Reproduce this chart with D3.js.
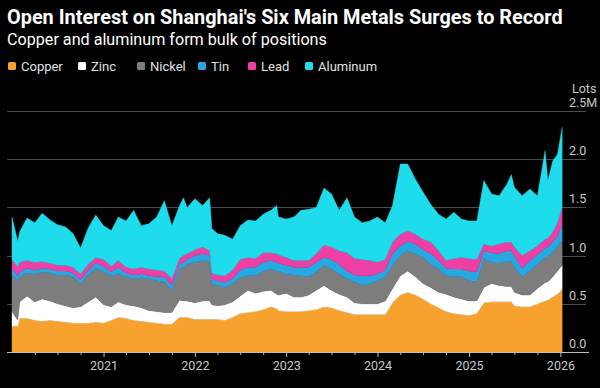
<!DOCTYPE html>
<html><head><meta charset="utf-8">
<script src="https://cdn.jsdelivr.net/npm/d3@7"></script>
<style>html,body{margin:0;padding:0;background:#000;} svg{display:block;}</style>
</head><body><svg id="c" width="600" height="388"></svg>
<script>
const dates = [
"2020-01-01","2020-01-24","2020-02-01","2020-03-01","2020-04-01","2020-05-01","2020-06-01","2020-07-01","2020-08-01","2020-09-01","2020-10-01","2020-11-01","2020-12-01",
"2021-01-01","2021-02-01","2021-03-01","2021-04-01","2021-05-01","2021-06-01","2021-07-01","2021-08-01","2021-09-01","2021-10-01","2021-11-01","2021-11-16","2021-12-01",
"2022-01-01","2022-02-01","2022-03-01","2022-03-10","2022-04-01","2022-05-01","2022-06-01","2022-07-01","2022-08-01","2022-09-01","2022-10-01","2022-11-01","2022-11-24","2022-12-01",
"2023-01-01","2023-02-01","2023-03-01","2023-04-01","2023-05-01","2023-06-01","2023-07-01","2023-08-01","2023-09-01","2023-10-01","2023-11-01","2023-12-01",
"2024-01-01","2024-02-01","2024-03-01","2024-04-01","2024-05-01","2024-06-01","2024-07-01","2024-08-01","2024-09-01","2024-10-01","2024-11-01","2024-12-01",
"2025-01-01","2025-02-01","2025-03-01","2025-04-01","2025-05-01","2025-06-01","2025-06-19","2025-07-01","2025-08-01","2025-09-01","2025-10-01","2025-11-01","2025-11-12","2025-12-01","2025-12-20",
"2026-01-08"];
// Open interest, million lots
const copper = [
.27,.27,.35,.35,.33,.32,.33,.32,.31,.30,.30,.30,.31,
.30,.33,.36,.35,.33,.32,.31,.30,.29,.29,.36,.36,.36,
.34,.34,.34,.34,.34,.33,.36,.40,.41,.42,.44,.47,.45,.43,
.42,.42,.42,.43,.44,.47,.46,.43,.41,.39,.39,.39,
.39,.39,.51,.59,.62,.59,.55,.50,.46,.42,.40,.39,
.38,.40,.51,.52,.52,.52,.52,.48,.47,.47,.50,.53,.54,.57,.60,
.65];
const zinc = [
.15,.06,.17,.23,.19,.23,.20,.18,.17,.16,.17,.22,.26,
.19,.14,.16,.14,.15,.14,.12,.12,.12,.12,.18,.17,.17,
.17,.19,.19,.15,.14,.16,.16,.18,.23,.19,.19,.17,.15,.16,
.19,.15,.15,.16,.20,.22,.18,.17,.16,.12,.11,.11,
.11,.14,.15,.20,.22,.19,.16,.17,.16,.18,.17,.16,
.15,.13,.16,.19,.17,.16,.16,.14,.12,.12,.16,.19,.19,.21,.24,
.25];
const nickel = [
.38,.41,.26,.24,.29,.28,.29,.30,.32,.32,.24,.28,.30,
.34,.32,.29,.29,.28,.31,.33,.32,.32,.23,.32,.35,.38,
.42,.42,.41,.22,.21,.18,.19,.19,.15,.18,.21,.22,.24,.25,
.20,.23,.22,.19,.19,.21,.22,.21,.19,.22,.19,.21,
.24,.25,.24,.21,.21,.24,.27,.24,.24,.19,.21,.23,
.21,.20,.30,.22,.23,.26,.26,.26,.19,.25,.25,.26,.26,.25,.25,
.26];
const tin = [
.06,.05,.05,.05,.04,.04,.04,.04,.04,.04,.04,.05,.05,
.06,.04,.07,.04,.04,.04,.03,.04,.05,.05,.05,.05,.05,
.07,.07,.06,.05,.05,.05,.05,.08,.09,.09,.09,.09,.09,.08,
.09,.08,.09,.10,.10,.08,.10,.10,.08,.07,.10,.08,
.07,.07,.12,.10,.10,.10,.08,.11,.09,.08,.08,.08,
.10,.10,.08,.10,.10,.11,.11,.12,.09,.11,.10,.10,.10,.11,.11,
.16];
const lead = [
.10,.09,.10,.08,.08,.07,.06,.06,.06,.06,.06,.06,.06,
.07,.06,.07,.06,.06,.07,.07,.07,.06,.07,.06,.07,.06,
.06,.07,.05,.06,.06,.07,.09,.11,.10,.09,.10,.08,.09,.09,
.08,.07,.07,.07,.09,.13,.13,.14,.19,.17,.17,.16,
.12,.11,.12,.12,.11,.10,.11,.12,.10,.08,.11,.12,
.13,.13,.07,.07,.10,.09,.09,.09,.13,.10,.09,.09,.09,.10,.14,
.18];
const aluminum = [
.44,.27,.32,.44,.41,.50,.45,.42,.40,.35,.27,.38,.44,
.35,.37,.45,.48,.61,.43,.47,.55,.73,.55,.55,.60,.48,
.53,.43,.55,.46,.43,.42,.32,.35,.39,.39,.40,.44,.50,.39,
.40,.45,.52,.53,.48,.59,.55,.42,.57,.43,.38,.41,
.47,.38,.38,.73,.69,.57,.49,.39,.38,.43,.48,.40,
.39,.40,.66,.54,.50,.60,.70,.62,.62,.64,.52,.92,.60,.74,.71,
.83];
const seriesNames = ["Copper","Zinc","Nickel","Tin","Lead","Aluminum"];
const seriesColors = ["#f7a12e","#ffffff","#7d7d7d","#27a8e2","#ee3fa5","#1fdcec"];
const yTicks = [0, 0.5, 1.0, 1.5, 2.0, 2.5];
const yTickLabels = ["0.0","0.5","1.0","1.5","2.0","2.5M"];
const xYearLabels = ["2021","2022","2023","2024","2025","2026"];

const parse = d3.timeParse("%Y-%m-%d");
const seriesData = [copper, zinc, nickel, tin, lead, aluminum];
const table = dates.map((d, i) => {
  const row = {date: parse(d)};
  seriesNames.forEach((n, k) => row[n] = seriesData[k][i]);
  return row;
});

const svg = d3.select("#c");
const W = 600, H = 388;
svg.append("rect").attr("width", W).attr("height", H).attr("fill", "#000");

const x = d3.scaleTime().domain([new Date(2020,0,1), new Date(2026,0,1)]).range([12, 560.4]);
const y = d3.scaleLinear().domain([0, 2.5]).range([352, 111]);
const gridX0 = 7, gridX1 = 586;

function fit(sel, w) {
  const l = sel.node().getComputedTextLength();
  const fs = parseFloat(sel.attr("font-size"));
  sel.attr("font-size", (fs * w / l).toFixed(2));
}

// Title & subtitle
const title = svg.append("text").attr("x", 7).attr("y", 24)
  .attr("font-family", "Roboto, 'Liberation Sans', sans-serif").attr("font-weight", "bold")
  .attr("font-size", 17).attr("fill", "#fff")
  .text("Open Interest on Shanghai's Six Main Metals Surges to Record");
fit(title, 556);
const sub = svg.append("text").attr("x", 7).attr("y", 45)
  .attr("font-family", "Roboto, 'Liberation Sans', sans-serif")
  .attr("font-size", 15).attr("fill", "#fff")
  .text("Copper and aluminum form bulk of positions");
fit(sub, 320);

// Legend
const legendX = [8, 78, 137, 198, 248, 305];
const lg = svg.append("g");
seriesNames.forEach((n, i) => {
  lg.append("rect").attr("x", legendX[i]).attr("y", 62).attr("width", 8).attr("height", 8)
    .attr("rx", 1.5).attr("fill", seriesColors[i]);
  lg.append("text").attr("x", legendX[i] + 13).attr("y", 70.5)
    .attr("font-family", "Roboto, 'Liberation Sans', sans-serif")
    .attr("font-size", 13).attr("fill", "#e0e0e0").text(n);
});

// Gridlines
svg.append("g").selectAll("line").data(yTicks.slice(1)).join("line")
  .attr("x1", gridX0).attr("x2", gridX1)
  .attr("y1", d => Math.round(y(d)) + 0.5).attr("y2", d => Math.round(y(d)) + 0.5)
  .attr("stroke", "#4d4d4d").attr("stroke-width", 1);

// Stacked areas
const stack = d3.stack().keys(seriesNames);
const layers = stack(table);
const area = d3.area()
  .x(d => x(d.data.date))
  .y0(d => y(d[0]))
  .y1(d => y(d[1]));
svg.append("g").selectAll("path").data(layers).join("path")
  .attr("d", area)
  .attr("fill", (d, i) => seriesColors[i])
  .attr("stroke", (d, i) => seriesColors[i])
  .attr("stroke-width", 0.4);

// Y labels
const yl = svg.append("g");
yTicks.forEach((v, i) => {
  yl.append("text").attr("x", 569).attr("y", y(v) - 4)
    .attr("font-family", "Roboto, 'Liberation Sans', sans-serif")
    .attr("font-size", 12.5).attr("fill", "#c8c8c8").text(yTickLabels[i]);
});
yl.append("text").attr("x", 572).attr("y", y(2.5) - 18)
  .attr("font-family", "Roboto, 'Liberation Sans', sans-serif")
  .attr("font-size", 12.5).attr("fill", "#c8c8c8").text("Lots");

// X axis
svg.append("line").attr("x1", gridX0).attr("x2", 589).attr("y1", 352.5).attr("y2", 352.5)
  .attr("stroke", "#bdbdbd").attr("stroke-width", 1);
const quarters = d3.timeMonth.every(3).range(new Date(2020,3,1), new Date(2026,0,2))
  .filter(d => d.getMonth() !== 0);
const minorAxis = d3.axisBottom(x).tickValues(quarters).tickSize(3).tickFormat("");
const gMinor = svg.append("g").attr("transform", "translate(0,352)").call(minorAxis);
const years = xYearLabels.map(s => new Date(+s, 0, 1));
const majorAxis = d3.axisBottom(x).tickValues(years).tickSize(5).tickPadding(4)
  .tickFormat((d, i) => xYearLabels[i]);
const gMajor = svg.append("g").attr("transform", "translate(0,352)").call(majorAxis);
[gMinor, gMajor].forEach(g => {
  g.select(".domain").remove();
  g.selectAll(".tick line").attr("stroke", "#bdbdbd");
  g.selectAll(".tick text").attr("fill", "#c8c8c8")
    .attr("font-family", "Roboto, 'Liberation Sans', sans-serif").attr("font-size", 12.5);
});
</script>
</body></html>
